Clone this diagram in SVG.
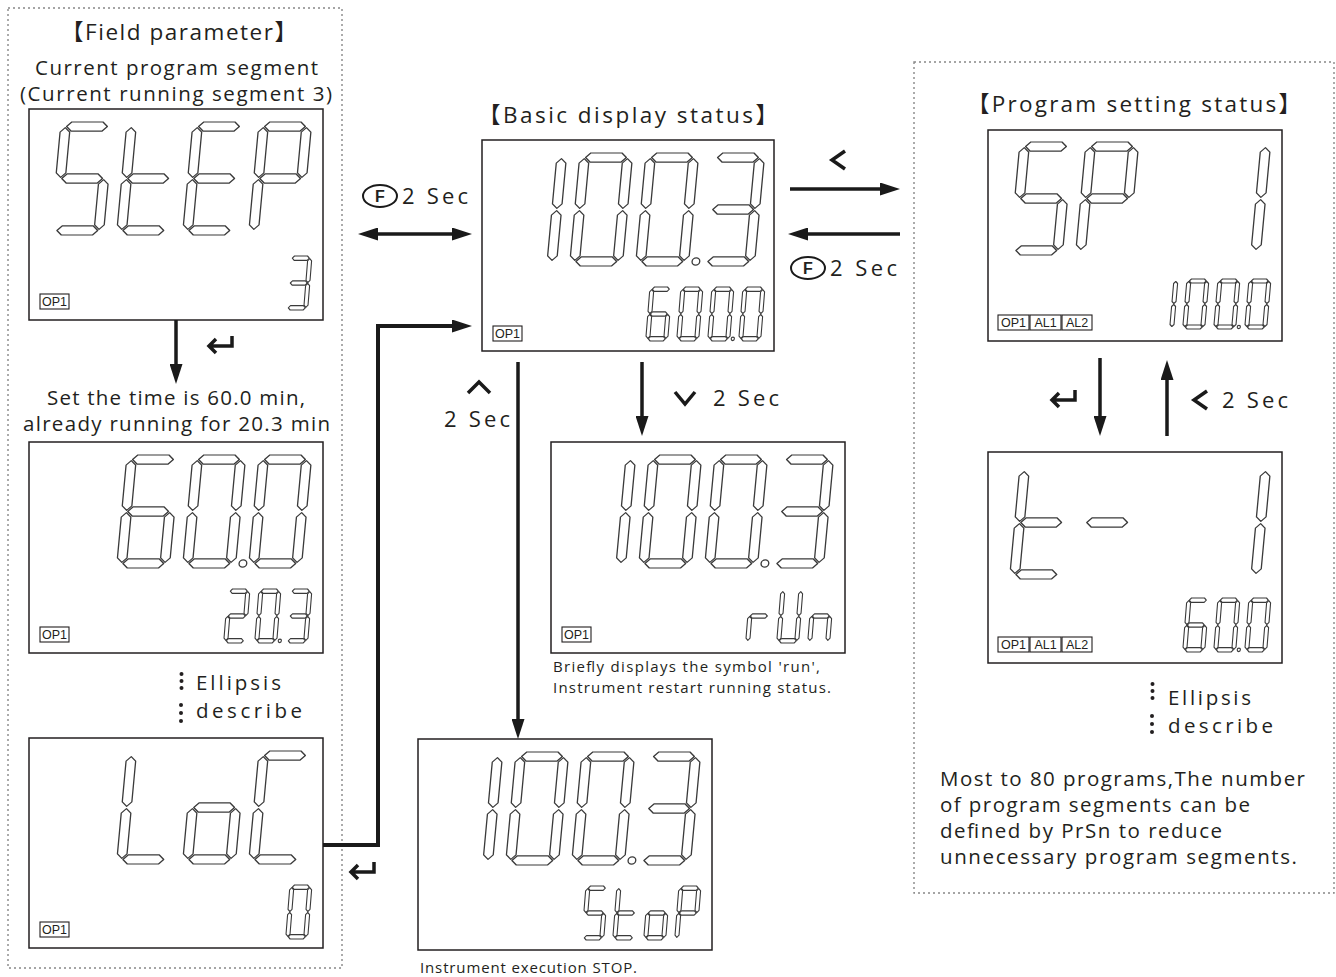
<svg xmlns="http://www.w3.org/2000/svg" width="1336" height="977" viewBox="0 0 1336 977">
<style>
text{font-family:"Open Sans","Noto Sans","Noto Sans CJK SC",sans-serif;fill:#231f20}
.t20{font-size:20.5px}
.t22{font-size:22px}
.t21{font-size:22.5px}
.t14{font-size:15px}
.lab{font-family:"Liberation Sans",Arial,sans-serif;font-size:12.5px}
.fk{font-family:"Liberation Sans",Arial,sans-serif;font-size:16px;font-weight:bold}
.frame{fill:#fff;stroke:#231f20;stroke-width:1.5}
.dash{fill:none;stroke:#888;stroke-width:1.4;stroke-dasharray:2 3}
.big{fill:#fff;stroke:#3a3a3a;stroke-width:1.1;stroke-linejoin:round}
.sml{fill:#fff;stroke:#3a3a3a;stroke-width:2.2;stroke-linejoin:round}
.conn{fill:none;stroke:#1a1a1a;stroke-width:3.5}
.icon{fill:none;stroke:#1a1a1a;stroke-width:3.5}
.lbox{fill:none;stroke:#231f20;stroke-width:1.1}
.dot{fill:#231f20}
</style>
<defs>
<polygon id="sa" points="5,4 9,0 35,0 39,4 35,8 9,8"/>
<polygon id="sg" points="5,50 9,46 35,46 39,50 35,54 9,54"/>
<polygon id="sd" points="5,96 9,92 35,92 39,96 35,100 9,100"/>
<polygon id="sf" points="4,5 8,9 8,45 4,49 0,45 0,9"/>
<polygon id="sb" points="40,5 44,9 44,45 40,49 36,45 36,9"/>
<polygon id="se" points="4,51 8,55 8,91 4,95 0,91 0,55"/>
<polygon id="sc" points="40,51 44,55 44,91 40,95 36,91 36,55"/>
<circle id="sp" cx="50" cy="96" r="3.2"/>
<g id="k0"><use href="#sa"/><use href="#sb"/><use href="#sc"/><use href="#sd"/><use href="#se"/><use href="#sf"/></g>
<g id="k1"><use href="#sb"/><use href="#sc"/></g>
<g id="k2"><use href="#sa"/><use href="#sb"/><use href="#sg"/><use href="#se"/><use href="#sd"/></g>
<g id="k3"><use href="#sa"/><use href="#sb"/><use href="#sg"/><use href="#sc"/><use href="#sd"/></g>
<g id="k6"><use href="#sa"/><use href="#sf"/><use href="#sg"/><use href="#se"/><use href="#sd"/><use href="#sc"/></g>
<g id="kS"><use href="#sa"/><use href="#sf"/><use href="#sg"/><use href="#sc"/><use href="#sd"/></g>
<g id="kt"><use href="#sf"/><use href="#se"/><use href="#sg"/><use href="#sd"/></g>
<g id="kE"><use href="#sa"/><use href="#sf"/><use href="#sg"/><use href="#se"/><use href="#sd"/></g>
<g id="kP"><use href="#sa"/><use href="#sb"/><use href="#sf"/><use href="#sg"/><use href="#se"/></g>
<g id="kL"><use href="#sf"/><use href="#se"/><use href="#sd"/></g>
<g id="ko"><use href="#sg"/><use href="#sc"/><use href="#sd"/><use href="#se"/></g>
<g id="kC"><use href="#sa"/><use href="#sf"/><use href="#se"/><use href="#sd"/></g>
<g id="kr"><use href="#se"/><use href="#sg"/></g>
<g id="kU"><use href="#sb"/><use href="#sc"/><use href="#sd"/><use href="#se"/><use href="#sf"/></g>
<g id="kn"><use href="#se"/><use href="#sg"/><use href="#sc"/></g>
<g id="km"><use href="#sg"/></g>
<path id="ret" d="M26,0 V10 H3 M10,3 L3,10 L10,17"/>
<marker id="ah" viewBox="0 0 20 13" markerWidth="20" markerHeight="13" markerUnits="userSpaceOnUse" refX="14" refY="6.5" orient="auto-start-reverse">
<path d="M0,0 L20,6.5 L0,13 z" fill="#1a1a1a"/>
</marker>
</defs>
<rect width="1336" height="977" fill="#fff"/>

<!-- dotted frames -->
<rect class="dash" x="8" y="8" width="334" height="960"/>
<rect class="dash" x="914" y="62" width="420" height="831"/>

<!-- left column titles -->
<text class="t21" x="179" y="40" text-anchor="middle" textLength="236">【Field parameter】</text>
<text class="t20" x="35" y="75" textLength="283">Current program segment</text>
<text class="t20" x="20" y="101" textLength="312">(Current running segment 3)</text>
<text class="t20" x="47" y="405" textLength="258">Set the time is 60.0 min,</text>
<text class="t20" x="23" y="431" textLength="307">already running for 20.3 min</text>
<g id="ellipsis-left">
<circle class="dot" cx="181.5" cy="674" r="2"/><circle class="dot" cx="181.5" cy="681" r="2"/><circle class="dot" cx="181.5" cy="688" r="2"/>
<circle class="dot" cx="181" cy="705" r="2"/><circle class="dot" cx="181" cy="713" r="2"/><circle class="dot" cx="181" cy="721" r="2"/>
<text class="t20" x="196" y="690" textLength="85">Ellipsis</text>
<text class="t20" x="196" y="718" textLength="106">describe</text>
</g>

<!-- Basic title -->
<text class="t21" x="628" y="123" text-anchor="middle" textLength="300">【Basic display status】</text>
<!-- Program setting title -->
<text class="t21" x="1134" y="112" text-anchor="middle" textLength="334">【Program setting status】</text>

<!-- Display: StEP -->
<g id="disp-step" transform="translate(29,109)">
<rect class="frame" width="294" height="211"/>
<use href="#kS" class="big" transform="translate(32,13) scale(1.2,1.13) skewX(-5)"/>
<use href="#kt" class="big" transform="translate(98,13) scale(1.2,1.13) skewX(-5)"/>
<use href="#kE" class="big" transform="translate(164,13) scale(1.2,1.13) skewX(-5)"/>
<use href="#kP" class="big" transform="translate(230,13) scale(1.2,1.13) skewX(-5)"/>
<use href="#k3" class="sml" transform="translate(261,147) scale(0.5,0.54) skewX(-5)"/>
<rect class="lbox" x="11" y="185" width="29" height="15"/><text class="lab" x="25.5" y="197" text-anchor="middle">OP1</text>
</g>

<!-- Display: 60.0 / 20.3 -->
<g id="disp-time" transform="translate(29,442)">
<rect class="frame" width="294" height="211"/>
<use href="#k6" class="big" transform="translate(98,13) scale(1.2,1.13) skewX(-5)"/>
<use href="#k0" class="big" transform="translate(164,13) scale(1.2,1.13) skewX(-5)"/>
<use href="#sp" class="big" transform="translate(164,13) scale(1.2,1.13) skewX(-5)"/>
<use href="#k0" class="big" transform="translate(230,13) scale(1.2,1.13) skewX(-5)"/>
<use href="#k2" class="sml" transform="translate(199,147) scale(0.5,0.54) skewX(-5)"/>
<use href="#k0" class="sml" transform="translate(230,147) scale(0.5,0.54) skewX(-5)"/>
<use href="#sp" class="sml" transform="translate(230,147) scale(0.5,0.54) skewX(-5)"/>
<use href="#k3" class="sml" transform="translate(261,147) scale(0.5,0.54) skewX(-5)"/>
<rect class="lbox" x="11" y="185" width="29" height="15"/><text class="lab" x="25.5" y="197" text-anchor="middle">OP1</text>
</g>

<!-- Display: LoC -->
<g id="disp-loc" transform="translate(29,738)">
<rect class="frame" width="294" height="210"/>
<use href="#kL" class="big" transform="translate(98,13) scale(1.2,1.13) skewX(-5)"/>
<use href="#ko" class="big" transform="translate(164,13) scale(1.2,1.13) skewX(-5)"/>
<use href="#kC" class="big" transform="translate(230,13) scale(1.2,1.13) skewX(-5)"/>
<use href="#k0" class="sml" transform="translate(261,147) scale(0.5,0.54) skewX(-5)"/>
<rect class="lbox" x="11" y="184" width="29" height="15"/><text class="lab" x="25.5" y="196" text-anchor="middle">OP1</text>
</g>

<!-- Display: Basic -->
<g id="disp-basic" transform="translate(482,140)">
<rect class="frame" width="292" height="211"/>
<use href="#k1" class="big" transform="translate(32,13) scale(1.2,1.13) skewX(-5)"/>
<use href="#k0" class="big" transform="translate(98,13) scale(1.2,1.13) skewX(-5)"/>
<use href="#k0" class="big" transform="translate(164,13) scale(1.2,1.13) skewX(-5)"/>
<use href="#sp" class="big" transform="translate(164,13) scale(1.2,1.13) skewX(-5)"/>
<use href="#k3" class="big" transform="translate(230,13) scale(1.2,1.13) skewX(-5)"/>
<use href="#k6" class="sml" transform="translate(168,147) scale(0.5,0.54) skewX(-5)"/>
<use href="#k0" class="sml" transform="translate(199,147) scale(0.5,0.54) skewX(-5)"/>
<use href="#k0" class="sml" transform="translate(230,147) scale(0.5,0.54) skewX(-5)"/>
<use href="#sp" class="sml" transform="translate(230,147) scale(0.5,0.54) skewX(-5)"/>
<use href="#k0" class="sml" transform="translate(261,147) scale(0.5,0.54) skewX(-5)"/>
<rect class="lbox" x="11" y="186" width="29" height="15"/><text class="lab" x="25.5" y="198" text-anchor="middle">OP1</text>
</g>

<!-- Display: rUn -->
<g id="disp-run" transform="translate(551,442)">
<rect class="frame" width="294" height="211"/>
<use href="#k1" class="big" transform="translate(32,13) scale(1.2,1.13) skewX(-5)"/>
<use href="#k0" class="big" transform="translate(98,13) scale(1.2,1.13) skewX(-5)"/>
<use href="#k0" class="big" transform="translate(164,13) scale(1.2,1.13) skewX(-5)"/>
<use href="#sp" class="big" transform="translate(164,13) scale(1.2,1.13) skewX(-5)"/>
<use href="#k3" class="big" transform="translate(230,13) scale(1.2,1.13) skewX(-5)"/>
<use href="#kr" class="sml" transform="translate(199,147) scale(0.5,0.54) skewX(-5)"/>
<use href="#kU" class="sml" transform="translate(230,147) scale(0.5,0.54) skewX(-5)"/>
<use href="#kn" class="sml" transform="translate(261,147) scale(0.5,0.54) skewX(-5)"/>
<rect class="lbox" x="11" y="185" width="29" height="15"/><text class="lab" x="25.5" y="197" text-anchor="middle">OP1</text>
</g>
<text class="t14" x="553" y="672" textLength="267">Briefly displays the symbol 'run',</text>
<text class="t14" x="553" y="693" textLength="278">Instrument restart running status.</text>

<!-- Display: StoP -->
<g id="disp-stop" transform="translate(418,739)">
<rect class="frame" width="294" height="211"/>
<use href="#k1" class="big" transform="translate(32,13) scale(1.2,1.13) skewX(-5)"/>
<use href="#k0" class="big" transform="translate(98,13) scale(1.2,1.13) skewX(-5)"/>
<use href="#k0" class="big" transform="translate(164,13) scale(1.2,1.13) skewX(-5)"/>
<use href="#sp" class="big" transform="translate(164,13) scale(1.2,1.13) skewX(-5)"/>
<use href="#k3" class="big" transform="translate(230,13) scale(1.2,1.13) skewX(-5)"/>
<use href="#kS" class="sml" transform="translate(168,147) scale(0.5,0.54) skewX(-5)"/>
<use href="#kt" class="sml" transform="translate(199,147) scale(0.5,0.54) skewX(-5)"/>
<use href="#ko" class="sml" transform="translate(230,147) scale(0.5,0.54) skewX(-5)"/>
<use href="#kP" class="sml" transform="translate(261,147) scale(0.5,0.54) skewX(-5)"/>
</g>
<text class="t14" x="420" y="973" textLength="217">Instrument execution STOP.</text>

<!-- Display: SP 1 -->
<g id="disp-sp1" transform="translate(988,130)">
<rect class="frame" width="294" height="211"/>
<use href="#kS" class="big" transform="translate(32,12) scale(1.2,1.13) skewX(-5)"/>
<use href="#kP" class="big" transform="translate(98,12) scale(1.2,1.13) skewX(-5)"/>
<use href="#k1" class="big" transform="translate(230,12) scale(1.2,1.13) skewX(-5)"/>
<use href="#k1" class="sml" transform="translate(168,149) scale(0.5,0.5) skewX(-5)"/>
<use href="#k0" class="sml" transform="translate(199,149) scale(0.5,0.5) skewX(-5)"/>
<use href="#k0" class="sml" transform="translate(230,149) scale(0.5,0.5) skewX(-5)"/>
<use href="#sp" class="sml" transform="translate(230,149) scale(0.5,0.5) skewX(-5)"/>
<use href="#k0" class="sml" transform="translate(261,149) scale(0.5,0.5) skewX(-5)"/>
<rect class="lbox" x="10" y="185" width="31" height="15"/><text class="lab" x="25.5" y="197" text-anchor="middle">OP1</text>
<rect class="lbox" x="42" y="185" width="31" height="15"/><text class="lab" x="57.5" y="197" text-anchor="middle">AL1</text>
<rect class="lbox" x="74" y="185" width="30" height="15"/><text class="lab" x="89" y="197" text-anchor="middle">AL2</text>
</g>

<!-- Display: t-1 -->
<g id="disp-t1" transform="translate(988,452)">
<rect class="frame" width="294" height="211"/>
<use href="#kt" class="big" transform="translate(32,14) scale(1.2,1.13) skewX(-5)"/>
<use href="#km" class="big" transform="translate(98,14) scale(1.2,1.13) skewX(-5)"/>
<use href="#k1" class="big" transform="translate(230,14) scale(1.2,1.13) skewX(-5)"/>
<use href="#k6" class="sml" transform="translate(199,146) scale(0.5,0.54) skewX(-5)"/>
<use href="#k0" class="sml" transform="translate(230,146) scale(0.5,0.54) skewX(-5)"/>
<use href="#sp" class="sml" transform="translate(230,146) scale(0.5,0.54) skewX(-5)"/>
<use href="#k0" class="sml" transform="translate(261,146) scale(0.5,0.54) skewX(-5)"/>
<rect class="lbox" x="10" y="185" width="31" height="15"/><text class="lab" x="25.5" y="197" text-anchor="middle">OP1</text>
<rect class="lbox" x="42" y="185" width="31" height="15"/><text class="lab" x="57.5" y="197" text-anchor="middle">AL1</text>
<rect class="lbox" x="74" y="185" width="30" height="15"/><text class="lab" x="89" y="197" text-anchor="middle">AL2</text>
</g>

<g id="ellipsis-right">
<circle class="dot" cx="1152.5" cy="684" r="2"/><circle class="dot" cx="1152.5" cy="691" r="2"/><circle class="dot" cx="1152.5" cy="698" r="2"/>
<circle class="dot" cx="1152" cy="716" r="2"/><circle class="dot" cx="1152" cy="724" r="2"/><circle class="dot" cx="1152" cy="732" r="2"/>
<text class="t20" x="1168" y="705" textLength="83">Ellipsis</text>
<text class="t20" x="1168" y="733" textLength="105">describe</text>
</g>
<text class="t20" x="940" y="786" textLength="365">Most to 80 programs,The number</text>
<text class="t20" x="940" y="812" textLength="310">of program segments can be</text>
<text class="t20" x="940" y="838" textLength="282">defined by PrSn to reduce</text>
<text class="t20" x="940" y="864" textLength="357">unnecessary program segments.</text>

<!-- connectors -->
<g id="connectors">
<line class="conn" x1="364" y1="234" x2="466" y2="234" marker-start="url(#ah)" marker-end="url(#ah)"/>
<polyline class="conn" style="stroke-width:4" points="323,845 378,845 378,326 466,326" marker-end="url(#ah)"/>
<line class="conn" x1="790" y1="189" x2="894" y2="189" marker-end="url(#ah)"/>
<line class="conn" x1="900" y1="234" x2="794" y2="234" marker-end="url(#ah)"/>
<line class="conn" x1="518" y1="362" x2="518" y2="733" marker-end="url(#ah)"/>
<line class="conn" x1="642" y1="362" x2="642" y2="430" marker-end="url(#ah)"/>
<line class="conn" x1="176" y1="320" x2="176" y2="378" marker-end="url(#ah)"/>
<line class="conn" x1="1100" y1="358" x2="1100" y2="430" marker-end="url(#ah)"/>
<line class="conn" x1="1167" y1="436" x2="1167" y2="366" marker-end="url(#ah)"/>
</g>

<!-- key labels -->
<g id="key-labels">
<ellipse cx="380" cy="196" rx="17" ry="11" fill="none" stroke="#1a1a1a" stroke-width="2"/>
<text class="fk" x="380" y="202" text-anchor="middle">F</text>
<text class="t22" x="402" y="204" textLength="66">2 Sec</text>
<ellipse cx="808" cy="268" rx="17" ry="11" fill="none" stroke="#1a1a1a" stroke-width="2"/>
<text class="fk" x="808" y="274" text-anchor="middle">F</text>
<text class="t22" x="830" y="276" textLength="67">2 Sec</text>
<path class="icon" d="M845,151 L832,160 L845,169"/>
<path class="icon" d="M468,393 L479,382 L490,393"/>
<text class="t22" x="444" y="427" textLength="66">2 Sec</text>
<path class="icon" d="M675,392 L685,404 L695,392"/>
<text class="t22" x="713" y="406" textLength="66">2 Sec</text>
<path class="icon" d="M1207,391 L1194,400 L1207,409"/>
<text class="t22" x="1222" y="408" textLength="66">2 Sec</text>
<use href="#ret" class="icon" x="206" y="336"/>
<use href="#ret" class="icon" x="348" y="862"/>
<use href="#ret" class="icon" x="1049" y="390"/>
</g>
</svg>
